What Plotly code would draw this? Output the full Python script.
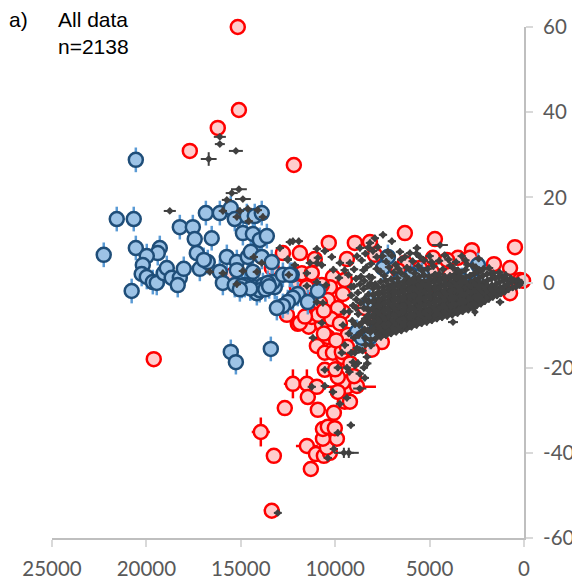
import plotly.graph_objects as go

red_big = [(13940,-35.1,480,3.4),(12240,-23.8,480,3.4),(11500,-23.8,300,3.4),(9380,-24.5,1540,1.0),
           (10550,-20.5,370,0.8),(11500,-38.4,580,0.8),(19610,-18,300,0.8),(11020,-40.3,300,0.8)]
red_far = [(15160,60),(15100,40.5),(16220,36.3),(17700,30.9),(12190,27.6),(13250,-40.7),(13360,-53.6),
           (12670,-29.5),(11450,-26.9),(10920,-29.9),(10970,-24.5),(10600,-40.7),(10280,-40),(10440,-38.8),
           (9910,-36.7),(10650,-36.7),(10650,-34.4),(10390,-33.9),(10020,-34.2),(10070,-30.6),(9490,-28),
           (9220,-28),(8850,-24.3),(9590,-23.4),(9860,-25.7),(9860,-22.2),(11290,-43.8)]
red_upper = [(6310,11.6),(4720,10.2),(480,8.3),(10340,9.3),(11870,6.9),(8960,9.3),(8160,9.5),(11080,5.5),
             (9380,5.5),(12770,6.9),(13360,3.4),(11770,2.2),(11240,2.2),(10120,1.3),(9490,0.6),(10280,-1.1),
             (10710,-0.6),(12030,-1.1),(11500,-1.1),(14100,-2.2),(15690,1.5),(2760,7.6),(1590,4.3),(740,3.4),
             (210,0.6),(50,0.4),(740,-2.5),(4820,5.8),(3500,5.8),(2860,5.8),(4080,5.3),(5510,3.4),(6310,4.6),
             (7900,6.5),(6680,2.9),(3920,1.8),(4880,2.5)]
red_lower = [(9590,-2.7),(10120,-5.8),(9590,-6.9),(11290,-6.5),(12560,-7.6),(11980,-9.7),(11400,-10.4),
             (10710,-9.7),(10390,-12.8),(10970,-14.9),(10550,-16.5),(10120,-16.5),(9590,-17.5),(9650,-16.3),
             (9330,-12.3),(11870,-9.5),(11240,-8.1),(10390,-4.1),(10810,-4.8),(7790,-8.8),(7530,-14),
             (8060,-15.8),(8590,-12.8),(9380,-15.1),(8430,-6),(9860,-6),(7630,-8.8),(5200,-3),(4100,-2),(6500,-5),
             (10900,-7.6),(10200,-8.6),(9750,-9.6),(10600,-12),(9950,-13.6),(9200,-19),(9000,-22),(10000,-20.4),
             (10600,-6.6),(11600,-8)]

blue_left = [(20560,28.8),(21570,14.9),(20670,14.9),(22260,6.5),(20560,8.1),(18230,13),(17540,13),(17440,10.2),
             (16540,10.4),(16850,16.3),(16110,16.3),(15530,17.5),(15320,14.9),(14680,15.6),(14260,15.6),
             (13890,16.3),(14890,11.6),(14360,11.4),(13990,10),(13620,10.9),(17330,6.9),(19290,8.1),(19400,6.9),
             (19980,6.2),(20190,4.1),(20250,2),(20780,-2),(19980,1.3),(19660,0.1),(19450,-0.1),(19080,2.2),
             (18920,3.4),(18660,1.1),(18230,1.1),(18340,-0.6),(18020,3.2),(17170,3.2),(16750,4.8),(16960,5.3),
             (13410,-15.6),(15530,-16.3),(15260,-18.7)]
blue_mid = [(15740,6),(15210,4.8),(14630,6),(14470,7.2),(13890,6),(13360,4.8),(16110,2.5),(15950,-0.1),
            (15210,2.9),(15320,-0.6),(14360,2.5),(14790,-0.6),(14260,-1.1),(14150,-2.5),(13830,-0.6),
            (13200,-1.1),(13300,0.1),(12770,1.8),(10920,-2),(11980,-2.7),(12240,-3.6),(12510,-4.6),(12770,-5.5),
            (13090,-6),(11450,-4.6),(12300,1.8),(13570,-0.1),(14950,-0.8),(12400,1.8),(14000,-1.8),(13700,-1.6),
            (14500,-1.4),(15050,-1.6),(13500,-0.9)]
blue_right = [(8850,-11.6),(8590,-13),(7900,-11.6),(8160,-12.8),(2440,4.1),(3290,0.6),(2490,0.1),(5940,1.8),
              (5410,1.8),(6570,0.6),(7210,6),(5620,-2.9),(7470,3.4),(8160,-4.6)]

gray_big = [(16110,34.2,320,0.5),(16110,32.5,265,0.5),(15260,30.9,370,0.4),(16700,29,420,1.6),(18760,16.8,320,0.5),
            (15100,21.9,420,0.6),(15480,21,320,0.5),(14890,19.6,420,0.5),(15740,19.4,265,0.5),(9540,-40,530,1.2),
            (9280,-40,530,1.2),(13040,-54.1,210,0.5),(4450,8.8,420,0.3),(2600,-6.9,120,1.0),(3760,-9.3,265,0.4),
            (8700,-24.9,350,0.4)]
gray_scatter = [(15950,16.8),(15050,16.8),(14630,17.3),(14100,17),(15210,15.4),(13830,15.4),(14580,14.4),(16640,2.5),
                (15950,2.2),(14890,2.7),(14150,2.5),(15210,-0.4),(14310,6),(13890,4.6),(12930,8.1),(12510,5.5),
                (12460,1.8),(12400,9.5),(12240,9.7),(11930,9.7),(10970,7.9),(10550,7.4),(12510,5.3),(12140,4.1),
                (11340,4.6),(10920,5.8),(10970,4.6),(10710,4.1),(11500,2.2),(10970,0.1),(11500,-0.8),(10490,-0.6),
                (10970,-4.6),(10710,-9.5),(10650,-4.8),(9540,-6.9),(9590,-10),(11180,-13),(9490,-14.7),(9650,-16.5),
                (8960,-16.5),(9060,-18.7),(8800,-18.9),(8320,-17.5),(10550,-20.5),(9860,-20),(9380,-20),(8480,-20),
                (8430,-22.4),(11240,-24.5),(10550,-24.3),(10120,-25.7),(9750,-28.5),(9380,-27.1),(9170,-33.5),
                (9860,-35.3),(10070,-39.1),(10390,-41.2)]
gray_top = [(10180,6),(9750,4.6),(9220,4.6),(8690,8.1),(8160,9.3),(7470,11.2),(7900,10.4),(7000,9.7),(5670,8.1),
            (5510,6),(6040,6.9),(6570,7.2),(7210,7.2),(7740,8.3),(9000,3.1),(8600,5.2),(8400,6.8),(8100,4.4),
            (7800,6),(7600,2.6),(7300,4.9),(7000,6.3),(6800,4.2),(6500,5.4),(6200,3.5),(5900,5),(5600,3.9),
            (5300,5.2),(5000,6.2),(4800,3.8),(4500,5.1),(4200,6.4),(3900,4),(3600,4.8),(3300,6.2),(3000,4.2),
            (2700,3.9),(2400,5.6),(2150,3.2),(1850,3.4),(9300,1.8),(8900,0.9),(8500,2.9),(8200,1.4),(7800,3.2),
            (3500,2.9),(4700,1.9),(5800,2.2),(6900,2.4)]
gray_wedge_a = [(150,0),(250,-0.6),(300,0.5),(420,-1),(450,0.3),(600,-1.2),(640,0.2),(700,1),(820,-1.6),(830,-0.3),
                (900,0.8),(1020,-2.2),(1050,-0.9),(1080,0.4),(1150,1.3),(1230,-2.6),(1270,-4.6),(1260,-1.2),(1300,0.1),
                (1340,1.4),(1430,-3.1),(1460,-1.7),(1480,-0.4),(1520,1),(1650,-3.4),(1680,-2),(1700,-0.6),(1720,0.9),
                (1750,2.1),(1860,-3.9),(1880,-2.4),(1900,-1),(1930,0.5),(1960,2),(2070,-4.4),(2100,-3),(2130,-1.5),
                (2160,0),(2180,1.6),(2280,-5),(2300,-3.5),(2330,-2),(2360,-0.5),(2390,1),(2420,2.6),(2500,-5.4),
                (2520,-4),(2540,-2.6),(2570,-1),(2600,0.6),(2620,2.2),(2720,-5.8),(2740,-4.4),(2770,-3),(2800,-1.5),
                (2830,0),(2860,1.6),(2950,-6.4),(2970,-5),(3000,-3.5),(3020,-2),(3050,-0.4),(3080,1.2),(3100,3)]
gray_wedge_b = [(3250,-6.8),(3270,-5.3),(3290,-3.8),(3310,-2.2),(3330,-0.6),(3350,1),(3370,2.4),(3520,-7.2),(3540,-5.7),
                (3560,-4.2),(3580,-2.6),(3600,-1),(3620,0.5),(3640,2),(3800,-7.6),(3820,-6),(3840,-4.5),(3860,-3),
                (3880,-1.4),(3900,0.2),(3920,1.6),(4070,-7.9),(4090,-6.4),(4110,-4.8),(4130,-3.2),(4150,-1.7),
                (4170,-0.2),(4190,1.4),(4340,-8.2),(4360,-6.7),(4380,-5.2),(4400,-3.6),(4420,-2),(4440,-0.4),(4460,1.1),
                (4610,-8.5),(4630,-7),(4650,-5.5),(4670,-3.9),(4690,-2.3),(4710,-0.8),(4730,0.8),(4880,-8.9),(4900,-7.4),
                (4920,-5.8),(4940,-4.2),(4960,-2.6),(4980,-1),(5000,0.6),(5150,-9.3),(5170,-7.7),(5190,-6.2),(5210,-4.6),
                (5230,-3),(5250,-1.4),(5270,0.2),(5290,1.7),(5420,-9.6),(5440,-8),(5460,-6.5),(5480,-5),(5500,-3.4),
                (5520,-1.7),(5540,-0.2),(5560,1.4)]
gray_wedge_c = [(5690,-10),(5710,-8.5),(5730,-7),(5750,-5.4),(5770,-3.8),(5790,-2.2),(5810,-0.6),(5830,1),(5960,-10.4),
                (5980,-8.9),(6000,-7.3),(6020,-5.7),(6040,-4.1),(6060,-2.6),(6080,-1),(6100,0.6),(6230,-10.9),(6250,-9.3),
                (6270,-7.7),(6290,-6.1),(6310,-4.6),(6330,-3),(6350,-1.4),(6370,0.2),(6500,-11.3),(6520,-9.6),(6540,-8),
                (6560,-6.5),(6580,-4.9),(6600,-3.3),(6620,-1.7),(6640,0),(6770,-11.6),(6790,-10),(6810,-8.4),(6830,-6.8),
                (6850,-5.2),(6870,-3.6),(6890,-2),(6910,-0.3),(7040,-12),(7060,-10.4),(7080,-8.8),(7100,-7.2),(7120,-5.6),
                (7140,-4),(7160,-2.4),(7180,-0.7),(7310,-12.4),(7330,-10.7),(7350,-9.1),(7370,-7.5),(7390,-5.9),(7410,-4.2),
                (7430,-2.6),(7450,-1),(7580,-12.8),(7600,-11.2),(7620,-9.4),(7640,-7.8),(7660,-6.2),(7680,-4.6),(7700,-2.8),
                (7720,-1.2),(7850,-13.1),(7870,-11.4),(7890,-9.8),(7910,-8),(7930,-6.4),(7950,-4.8),(7970,-3),(7990,-1.4),
                (8120,-13.5),(8140,-11.7),(8160,-9.6),(8180,-8.2),(8200,-6.6),(8220,-4.4),(8240,-2.8),(8260,-0.8),
                (8400,-14.6),(8450,-11),(8420,-8.5),(8480,-6),(8440,-3.8),(8500,-1.5),(8460,0.4),(8700,-15.8),(8750,-12.4),
                (8720,-10),(8780,-7.4),(8650,-4.8),(8800,-2.4),(8690,-0.4),(9000,-13),(9100,-9),(9050,-5.4),(9150,-3),
                (9020,-0.9),(8950,-19.5),(8300,-19),(8700,-21.4),(8550,-16),(9250,-21),(9150,-16.5)]
gray_fill_a = [(1140,-1.8),(1380,-2.2),(1560,-2.6),(1790,-3),(1990,-3.6),(2190,-4.2),(2410,-4.6),(2630,-5),(2840,-5.4),
               (3130,-5.8),(3400,-6.2),(3660,-6.6),(3940,-6.9),(4200,-7.2),(4480,-7.5),(4750,-7.8),(5020,-8.2),(5290,-8.6),
               (5560,-9),(5830,-9.4),(6100,-9.8),(6370,-10.2),(6640,-10.6),(6910,-11),(7180,-11.3),(7450,-11.7),(7720,-12.1),
               (1560,-1.2),(1790,-1.5),(1990,-2.1),(2190,-2.7),(2410,-3),(2630,-3.4),(2840,-3.8),(3130,-4.4),(3400,-4.8),
               (3660,-5.2),(3940,-5.4),(4200,-5.8),(4480,-6),(4750,-6.3),(5020,-6.6),(5290,-7),(5560,-7.3),(5830,-7.8),
               (6100,-8.2),(6370,-8.6),(6640,-9),(6910,-9.4),(7180,-9.7),(7450,-10),(7720,-10.5),(8000,-10.8),(8280,-11.2)]
gray_fill_b = [(1990,-0.6),(2190,-1.1),(2410,-1.4),(2630,-1.9),(2840,-2.3),(3130,-2.9),(3400,-3.2),(3660,-3.6),(3940,-3.8),
               (4200,-4.1),(4480,-4.4),(4750,-4.7),(5020,-5),(5290,-5.4),(5560,-5.7),(5830,-6.2),(6100,-6.5),(6370,-6.9),
               (6640,-7.3),(6910,-7.6),(7180,-8),(7450,-8.3),(7720,-8.7),(8000,-9.2),(8280,-9.4),(2410,0.2),(2630,-0.3),
               (2840,-0.8),(3130,-1.3),(3400,-1.6),(3660,-2),(3940,-2.2),(4200,-2.5),(4480,-2.8),(4750,-3.1),(5020,-3.4),
               (5290,-3.8),(5560,-4.2),(5830,-4.6),(6100,-4.9),(6370,-5.3),(6640,-5.7),(6910,-6),(7180,-6.4),(7450,-6.7),
               (7720,-7.1),(8000,-7.6),(8280,-7.8),(3130,0.3),(3400,0),(3660,-0.4),(3940,-0.6),(4200,-0.9),(4480,-1.2),
               (4750,-1.5),(5020,-1.8),(5290,-2.2),(5560,-2.6),(5830,-3),(6100,-3.3),(6370,-3.7),(6640,-4.1),(6910,-4.4),
               (7180,-4.8),(7450,-5.1),(7720,-5.5),(8000,-6),(8280,-6.1)]
gray_fill_c = [(3400,1.6),(3660,1.2),(3940,1),(4200,0.7),(4480,0.4),(4750,0.1),(5020,-0.2),(5290,-0.6),(5560,-1),(5830,-1.4),
               (6100,-1.7),(6370,-2.1),(6640,-2.5),(6910,-2.8),(7180,-3.2),(7450,-3.5),(7720,-3.9),(8000,-4.4),(8280,-4.5),
               (4480,2),(4750,1.7),(5020,1.4),(5560,0.6),(5830,0.2),(6100,-0.1),(6370,-0.5),(6640,-0.9),(6910,-1.2),
               (7180,-1.6),(7450,-1.9),(7720,-2.3),(8000,-2.8),(6240,1.4),(6710,1),(7040,0.8),(7320,0.4),(7590,0.2),
               (7880,-0.4),(8130,-0.2),(8050,1.2),(7400,1.6),(6500,2.2),(8640,1.4),(8350,3.6),(9150,-1),(8880,-4),
               (8580,-9.4),(8900,-6),(8650,-11.8),(8950,-9.8),(8400,-13),(8100,-14.8),(9250,-6.8),(9280,-12),(8850,-15.4),
               (4300,3.1),(3750,3.4),(5100,3.2),(5400,2.8),(6050,3),(6650,3.2),(7150,3.6),(4000,5.4),(4900,4.8),(3100,5.2),
               (2550,3.6),(2300,2.8),(1620,2.2),(1300,2.4),(970,1.8),(5700,6.8),(6300,6),(7500,6.2),(8000,7.4),(8850,6.2),
               (9500,2.9),(9800,1.1),(10100,3),(8250,8.2)]

gray_all_small = gray_scatter + gray_top + gray_wedge_a + gray_wedge_b + gray_wedge_c + gray_fill_a + gray_fill_b + gray_fill_c

x_ticks = [25000, 20000, 15000, 10000, 5000, 0]
x_labels = ["25000", "20000", "15000", "10000", "5000", "0"]
y_ticks = [60, 40, 20, 0, -20, -40, -60]
y_labels = ["60", "40", "20", "0", "-20", "-40", "-60"]

RED_FILL, RED_LINE = "#FFCCCC", "#FF0000"
BLUE_FILL, BLUE_LINE, BLUE_ERR = "#9DC3E6", "#1F4E79", "#5B9BD5"
GRAY = "#404040"


def col(rows, i):
    return [r[i] for r in rows]


def scatter(rows, fill, line, line_w, size, err_col, thick, ex=None, ey=None, symbol="circle"):
    xs, ys = col(rows, 0), col(rows, 1)
    if ex is None:
        ex = col(rows, 2)
        ey = col(rows, 3)
    return go.Scatter(
        x=xs, y=ys, mode="markers", cliponaxis=False, showlegend=False,
        marker=dict(size=size, color=fill, symbol=symbol, line=dict(color=line, width=line_w)),
        error_x=dict(type="data", array=ex, color=err_col, thickness=thick, width=0),
        error_y=dict(type="data", array=ey, color=err_col, thickness=thick, width=0),
    )


fig = go.Figure()
red_plain = red_far + red_upper + red_lower
fig.add_trace(go.Scatter(
    x=col(red_big, 0), y=col(red_big, 1), mode="markers", cliponaxis=False, showlegend=False,
    marker=dict(size=14, color=RED_FILL, line=dict(color=RED_LINE, width=2.5)),
    error_x=dict(type="data", array=col(red_big, 2), color=RED_LINE, thickness=2.5, width=0),
    error_y=dict(type="data", array=col(red_big, 3), color=RED_LINE, thickness=2.5, width=0),
))
fig.add_trace(go.Scatter(
    x=col(red_plain, 0), y=col(red_plain, 1), mode="markers", cliponaxis=False, showlegend=False,
    marker=dict(size=14, color=RED_FILL, line=dict(color=RED_LINE, width=2.5)),
))
blue_all = blue_left + blue_mid + blue_right
fig.add_trace(scatter(blue_all, BLUE_FILL, BLUE_LINE, 2.5, 14, BLUE_ERR, 2.5,
                      ex=[250] * len(blue_all), ey=[2.9] * len(blue_all)))
fig.add_trace(scatter(gray_big, GRAY, GRAY, 0, 6, GRAY, 2, symbol="diamond"))
fig.add_trace(scatter(gray_all_small, GRAY, GRAY, 0, 6, GRAY, 2, symbol="diamond",
                      ex=[220] * len(gray_all_small), ey=[0.8] * len(gray_all_small)))

TICK_FONT = dict(family="Lato", size=20.5, color="#595959")
fig.update_layout(
    width=572, height=579, autosize=False,
    paper_bgcolor="white", plot_bgcolor="white",
    margin=dict(l=44, r=56, t=19, b=49),
    font=dict(family="Lato", size=20, color="#595959"),
    xaxis=dict(range=[25000, 0], tickmode="array", tickvals=x_ticks, ticktext=x_labels, automargin=False,
               showgrid=False, zeroline=False, showline=True, linecolor="#BFBFBF", linewidth=2,
               ticks="outside", ticklen=7, tickcolor="#D9D9D9", tickwidth=2, ticklabelstandoff=4,
               tickfont=TICK_FONT, side="bottom"),
    yaxis=dict(range=[-60, 60], tickmode="array", tickvals=y_ticks, ticktext=y_labels, automargin=False,
               showgrid=False, zeroline=False, showline=True, linecolor="#BFBFBF", linewidth=2,
               ticks="outside", ticklen=7, tickcolor="#D9D9D9", tickwidth=2, ticklabelstandoff=6,
               tickfont=TICK_FONT, side="right"),
    annotations=[
        dict(text="a)", xref="paper", yref="paper", x=-0.095, y=1.0137, xanchor="left", yanchor="middle",
             showarrow=False, font=dict(family="Liberation Sans", size=21, color="#000000")),
        dict(text="All data", xref="paper", yref="paper", x=0.0085, y=1.0137, xanchor="left", yanchor="middle",
             showarrow=False, font=dict(family="Liberation Sans", size=21, color="#000000")),
        dict(text="n=2138", xref="paper", yref="paper", x=0.0085, y=0.9628, xanchor="left", yanchor="middle",
             showarrow=False, font=dict(family="Liberation Sans", size=21, color="#000000")),
    ],
)
fig.write_html("out.html")
